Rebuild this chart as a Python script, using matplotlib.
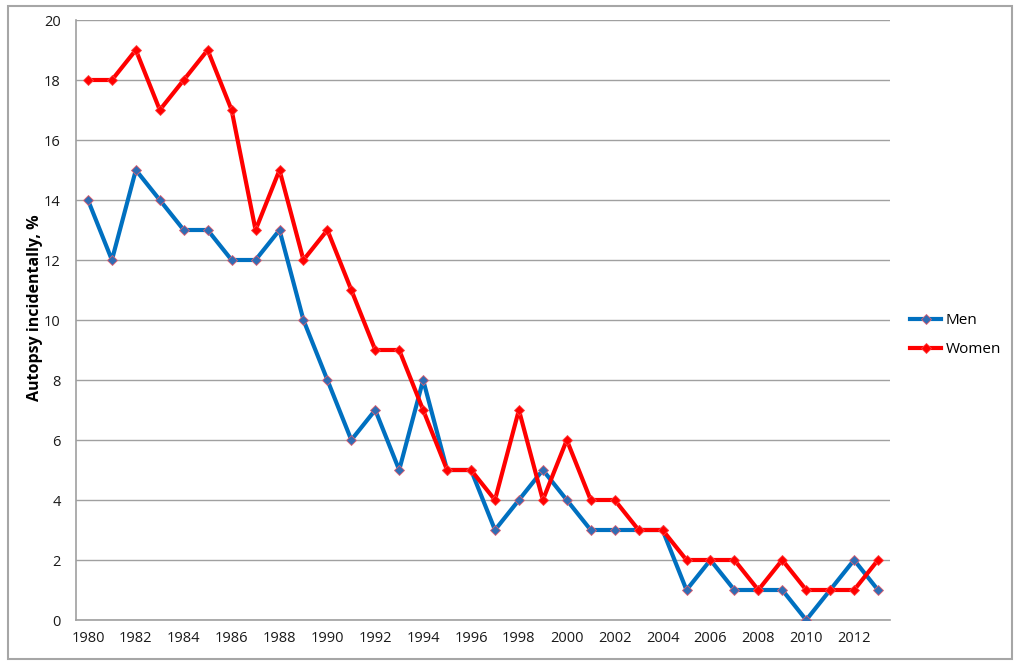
import matplotlib
matplotlib.use("agg")
import matplotlib.pyplot as plt
from matplotlib.patches import Rectangle

years = list(range(1980, 2014))
men = [14, 12, 15, 14, 13, 13, 12, 12, 13, 10, 8, 6, 7, 5, 8, 5, 5, 3, 4, 5,
       4, 3, 3, 3, 3, 1, 2, 1, 1, 1, 0, 1, 2, 1]
women = [18, 18, 19, 17, 18, 19, 17, 13, 15, 12, 13, 11, 9, 9, 7, 5, 5, 4, 7, 4,
         6, 4, 4, 3, 3, 2, 2, 2, 1, 2, 1, 1, 1, 2]
y_ticks = list(range(0, 21, 2))
x_ticks = list(range(1980, 2014, 2))

plt.rcParams["font.family"] = ["Open Sans", "DejaVu Sans"]

fig = plt.figure(figsize=(10.24, 6.71), dpi=100)
fig.patches.append(Rectangle((8 / 1024, 1 - 659 / 671), 1004 / 1024, 653 / 671,
                             transform=fig.transFigure, fill=False,
                             edgecolor="#A6A6A6", linewidth=1.5))
ax = fig.add_axes([76 / 1024, 1 - 620 / 671, 814 / 1024, 600 / 671])

ax.plot(years, men, color="#0070C0", linewidth=3, marker="D", markersize=5,
        markerfacecolor="#2E6DB4", markeredgecolor="#E06070",
        markeredgewidth=0.6, label="Men", zorder=3)
ax.plot(years, women, color="#FF0000", linewidth=3, marker="D", markersize=5,
        markerfacecolor="#FF0000", markeredgecolor="#FF4040",
        markeredgewidth=0.6, label="Women", zorder=3)

ax.set_xlim(1979.5, 2013.5)
ax.set_ylim(0, 20)
ax.set_yticks(y_ticks)
ax.set_xticks(x_ticks)
ax.set_xticklabels([str(x) for x in x_ticks])
ax.grid(axis="y", color="#A0A0A0", linewidth=1)
ax.set_axisbelow(True)
for side in ["top", "right"]:
    ax.spines[side].set_visible(False)
for side in ["left", "bottom"]:
    ax.spines[side].set_color("#A0A0A0")
    ax.spines[side].set_linewidth(1.2)
ax.tick_params(axis="both", length=0, labelsize=10.5, labelcolor="#1a1a1a")
ax.tick_params(axis="y", pad=11)
ax.tick_params(axis="x", pad=8)
ax.set_ylabel("Autopsy incidentally, %", fontsize=11.5, fontweight="bold")
ax.yaxis.set_label_coords(-0.04, 0.52)

leg = ax.legend(loc="center left", bbox_to_anchor=(1.008, 0.475), frameon=False,
                fontsize=11, handlelength=2.0, labelspacing=0.9,
                handletextpad=0.3)

plt.savefig("out.png", dpi=100)
